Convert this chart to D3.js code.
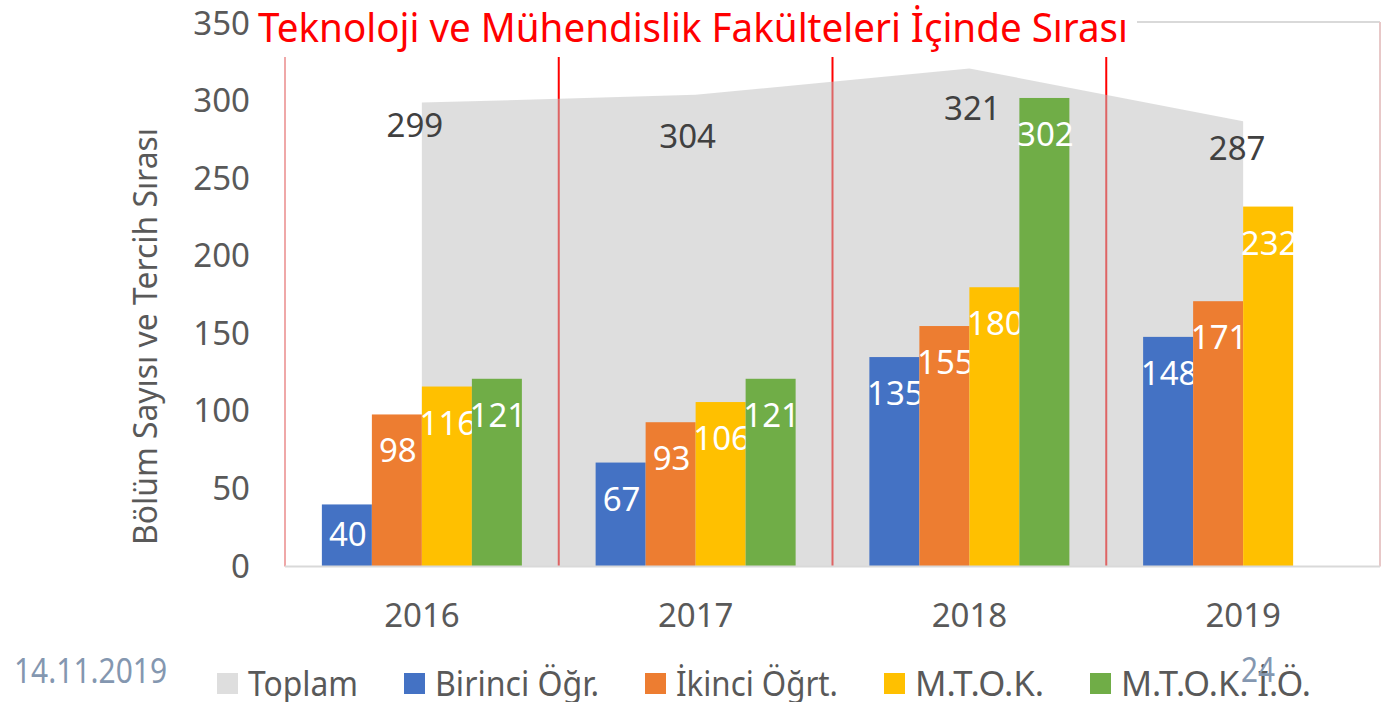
<!DOCTYPE html>
<html>
<head>
<meta charset="utf-8">
<script src="https://cdn.jsdelivr.net/npm/d3@7"></script>
<style>
  html, body { margin: 0; padding: 0; background: #fff; }
  svg { display: block; }
  text { font-family: "Noto Sans", "Open Sans", sans-serif; }
</style>
</head>
<body>
<svg id="chart" width="1388" height="702"></svg>
<script>
// ---------------- data ----------------
const years = ["2016", "2017", "2018", "2019"];
const seriesNames = ["Birinci Öğr.", "İkinci Öğrt.", "M.T.O.K.", "M.T.O.K. İ.Ö."];
const toplam = [299, 304, 321, 287];
const birinci = [40, 67, 135, 148];
const ikinci = [98, 93, 155, 171];
const mtok = [116, 106, 180, 232];
const mtokIO = [121, 121, 302, null];
const yTicks = [0, 50, 100, 150, 200, 250, 300, 350];
const titleText = "Teknoloji ve Mühendislik Fakülteleri İçinde Sırası";
const yTitle = "Bölüm Sayısı ve Tercih Sırası";
const legendNames = ["Toplam", "Birinci Öğr.", "İkinci Öğrt.", "M.T.O.K.", "M.T.O.K. İ.Ö."];
const dateText = "14.11.2019";
const pageText = "24";

// ---------------- styles / layout ----------------
const seriesColors = ["#4472C4", "#ED7D31", "#FFC000", "#70AD47"];
const areaColor = "#C0C0C0", areaOpacity = 0.52;
const legendColors = ["#DEDEDE"].concat(seriesColors);
const legendTextWidths = [110, 164, 162, 129, 190];
// label nudges for Toplam labels (dx, dy from point)
const toplamLabelNudge = [[-7, 34], [-8, 53], [3, 52], [-6, 39]];

const svg = d3.select("#chart");
const pLeft = 285, pRight = 1380, pTop = 23.5, pBottom = 566.5;

const x = d3.scaleBand().domain(years).range([pLeft, pRight]).padding(0);
const xs = d3.scaleBand().domain(seriesNames).range([0, x.bandwidth()]).paddingInner(0).paddingOuter(0.7375);
const y = d3.scaleLinear().domain([0, 350]).range([pBottom, pTop]);

const seriesValues = [birinci, ikinci, mtok, mtokIO];

// frame
svg.append("line").attr("x1", pLeft).attr("x2", pRight).attr("y1", 22).attr("y2", 22)
  .attr("stroke", "#D9D9D9").attr("stroke-width", 2);
svg.append("line").attr("x1", pRight).attr("x2", pRight).attr("y1", 22).attr("y2", pBottom)
  .attr("stroke", "#E8C8C8").attr("stroke-width", 2);

// red separator lines
years.forEach((yr, i) => {
  svg.append("line")
    .attr("x1", x(yr)).attr("x2", x(yr))
    .attr("y1", 57).attr("y2", pBottom)
    .attr("stroke", i === 0 ? "#EFA8A8" : "#FF0000")
    .attr("stroke-width", 2);
});

// area (Toplam)
const area = d3.area()
  .x((d, i) => x(years[i]) + x.bandwidth() / 2)
  .y0(y(0))
  .y1(d => y(d));
svg.append("path").datum(toplam)
  .attr("d", area)
  .attr("fill", areaColor)
  .attr("fill-opacity", areaOpacity);

// bars
seriesValues.forEach((vals, s) => {
  const g = svg.append("g");
  vals.forEach((v, i) => {
    if (v == null) return;
    const bx = x(years[i]) + xs(seriesNames[s]);
    g.append("rect")
      .attr("x", bx).attr("y", y(v))
      .attr("width", xs.bandwidth()).attr("height", y(0) - y(v))
      .attr("fill", seriesColors[s]);
    g.append("text")
      .attr("x", bx + xs.bandwidth() / 2 + 1)
      .attr("y", Math.min(y(v) + 48, y(0) - 21))
      .attr("text-anchor", "middle")
      .attr("font-size", 33)
      .attr("fill", "#fff")
      .text(v);
  });
});

// Toplam labels
toplam.forEach((v, i) => {
  svg.append("text")
    .attr("x", x(years[i]) + x.bandwidth() / 2 + toplamLabelNudge[i][0])
    .attr("y", y(v) + toplamLabelNudge[i][1])
    .attr("text-anchor", "middle")
    .attr("font-size", 33)
    .attr("fill", "#404040")
    .text(v);
});

// baseline
svg.append("line").attr("x1", pLeft).attr("x2", pRight).attr("y1", pBottom).attr("y2", pBottom)
  .attr("stroke", "#D9D9D9").attr("stroke-width", 2);

// y axis
const yAxis = d3.axisLeft(y).tickValues(yTicks).tickSize(0).tickPadding(35);
const gy = svg.append("g").attr("transform", `translate(${pLeft},0)`).call(yAxis);
gy.select(".domain").remove();
gy.selectAll("text").attr("font-size", 33).attr("fill", "#595959")
  .attr("font-family", "'Noto Sans', sans-serif");

// x axis
const xAxis = d3.axisBottom(x).tickSize(0).tickPadding(37);
const gx = svg.append("g").attr("transform", `translate(0,${pBottom})`).call(xAxis);
gx.select(".domain").remove();
gx.selectAll("text").attr("font-size", 33).attr("fill", "#595959")
  .attr("font-family", "'Noto Sans', sans-serif");

// y title
svg.append("text")
  .attr("transform", `translate(157,${336.5}) rotate(-90)`)
  .attr("text-anchor", "middle")
  .attr("font-size", 32)
  .attr("fill", "#595959")
  .attr("textLength", 417)
  .attr("lengthAdjust", "spacingAndGlyphs")
  .text(yTitle);

// title box + title
svg.append("rect").attr("x", 249).attr("y", 0).attr("width", 888).attr("height", 52).attr("fill", "#fff");
svg.append("text")
  .attr("x", 258).attr("y", 42)
  .attr("font-size", 40.5)
  .attr("fill", "#FF0000")
  .attr("textLength", 870)
  .attr("lengthAdjust", "spacingAndGlyphs")
  .text(titleText);

// legend
let lx = 217;
legendNames.forEach((name, i) => {
  svg.append("rect").attr("x", lx).attr("y", 673).attr("width", 21).attr("height", 21)
    .attr("fill", legendColors[i]);
  svg.append("text")
    .attr("x", lx + 31).attr("y", 696)
    .attr("font-size", 35)
    .attr("fill", "#595959")
    .attr("textLength", legendTextWidths[i])
    .attr("lengthAdjust", "spacingAndGlyphs")
    .text(name);
  lx = lx + 31 + legendTextWidths[i] + 46;
});

// footer texts
svg.append("text")
  .attr("x", 14).attr("y", 683)
  .attr("font-family", "'Liberation Sans', Arial, sans-serif")
  .attr("font-size", 34)
  .attr("fill", "#8497B0")
  .attr("textLength", 153)
  .attr("lengthAdjust", "spacingAndGlyphs")
  .text(dateText);
svg.append("text")
  .attr("x", 1241).attr("y", 682)
  .attr("font-family", "'Liberation Sans', Arial, sans-serif")
  .attr("font-size", 34)
  .attr("fill", "#8497B0")
  .attr("textLength", 34)
  .attr("lengthAdjust", "spacingAndGlyphs")
  .text(pageText);
</script>
</body>
</html>
